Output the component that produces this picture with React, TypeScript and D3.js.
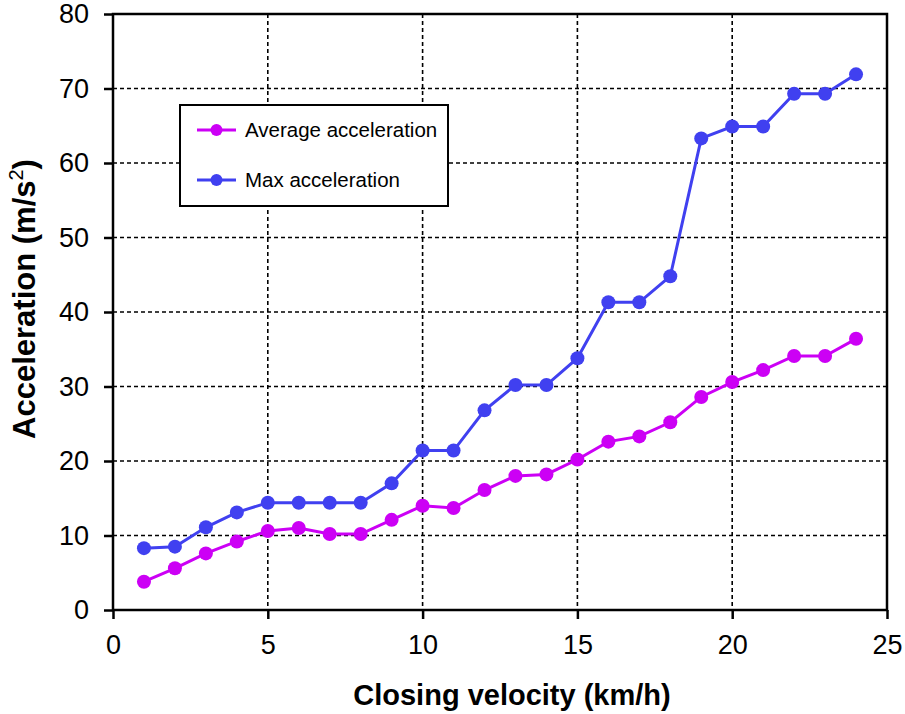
import React, { useEffect, useRef } from "react";
import * as d3 from "d3";

const velocity = [1, 2, 3, 4, 5, 6, 7, 8, 9, 10, 11, 12, 13, 14, 15, 16, 17, 18, 19, 20, 21, 22, 23, 24];
const avgAccel = [3.8, 5.6, 7.6, 9.2, 10.6, 11.0, 10.2, 10.2, 12.1, 14.0, 13.7, 16.1, 18.0, 18.2, 20.2, 22.6, 23.3, 25.2, 28.6, 30.6, 32.2, 34.1, 34.1, 36.4];
const maxAccel = [8.3, 8.5, 11.1, 13.1, 14.4, 14.4, 14.4, 14.4, 17.0, 21.4, 21.4, 26.8, 30.2, 30.2, 33.8, 41.3, 41.3, 44.8, 63.3, 64.9, 64.9, 69.3, 69.3, 71.9];
const xTicks = [0, 5, 10, 15, 20, 25];
const yTicks = [0, 10, 20, 30, 40, 50, 60, 70, 80];
const seriesNames = ["Average acceleration", "Max acceleration"];

const AVG_COLOR = "#cc00f5";
const MAX_COLOR = "#4040f0";

export default function App() {
  const ref = useRef<SVGSVGElement>(null);

  useEffect(() => {
    const width = 905;
    const height = 714;
    const margin = { top: 14, right: 18, bottom: 104, left: 113 };
    const svg = d3.select(ref.current).attr("width", width).attr("height", height);
    svg.selectAll("*").remove();

    const font = "'Liberation Sans', Arial, sans-serif";

    const x = d3.scaleLinear().domain([0, 25]).range([margin.left, width - margin.right]);
    const y = d3.scaleLinear().domain([0, 80]).range([height - margin.bottom, margin.top]);

    const x0 = x(0), x1 = x(25), y0 = y(0), y1 = y(80);

    // grid
    const grid = svg.append("g").attr("stroke", "#000").attr("stroke-width", 1.6).attr("stroke-dasharray", "4,3");
    grid
      .selectAll(".gx")
      .data(xTicks.filter((t) => t > 0 && t < 25))
      .join("line")
      .attr("x1", (d) => x(d))
      .attr("x2", (d) => x(d))
      .attr("y1", y1)
      .attr("y2", y0);
    grid
      .selectAll(".gy")
      .data(yTicks.filter((t) => t > 0 && t < 80))
      .join("line")
      .attr("x1", x0)
      .attr("x2", x1)
      .attr("y1", (d) => y(d))
      .attr("y2", (d) => y(d));

    // frame
    svg
      .append("rect")
      .attr("x", x0)
      .attr("y", y1)
      .attr("width", x1 - x0)
      .attr("height", y0 - y1)
      .attr("fill", "none")
      .attr("stroke", "#000")
      .attr("stroke-width", 2.5);

    // axes
    svg
      .append("g")
      .attr("transform", `translate(0,${y0})`)
      .call(d3.axisBottom(x).tickValues(xTicks).tickSize(9).tickPadding(16).tickFormat(d3.format("d")))
      .call((g) => g.select(".domain").remove())
      .call((g) => g.selectAll("line").attr("stroke-width", 2.5))
      .call((g) => g.selectAll("text").attr("font-family", font).attr("font-size", 27).attr("fill", "#000"));

    svg
      .append("g")
      .attr("transform", `translate(${x0},0)`)
      .call(d3.axisLeft(y).tickValues(yTicks).tickSize(9).tickPadding(15).tickFormat(d3.format("d")))
      .call((g) => g.select(".domain").remove())
      .call((g) => g.selectAll("line").attr("stroke-width", 2.5))
      .call((g) => g.selectAll("text").attr("font-family", font).attr("font-size", 27).attr("fill", "#000"));

    // series
    const series = [
      { name: seriesNames[0], values: avgAccel, color: AVG_COLOR },
      { name: seriesNames[1], values: maxAccel, color: MAX_COLOR },
    ];
    const line = d3
      .line<number>()
      .x((_, i) => x(velocity[i]))
      .y((d) => y(d));

    series.forEach((s) => {
      svg
        .append("path")
        .datum(s.values)
        .attr("fill", "none")
        .attr("stroke", s.color)
        .attr("stroke-width", 3)
        .attr("d", line);
      svg
        .append("g")
        .selectAll("circle")
        .data(s.values)
        .join("circle")
        .attr("cx", (_, i) => x(velocity[i]))
        .attr("cy", (d) => y(d))
        .attr("r", 7)
        .attr("fill", s.color);
    });

    // legend
    const lg = svg.append("g").attr("transform", "translate(180,105)");
    lg.append("rect")
      .attr("width", 268)
      .attr("height", 101)
      .attr("fill", "#fff")
      .attr("stroke", "#000")
      .attr("stroke-width", 2);
    series.forEach((s, i) => {
      const ly = 25 + i * 50;
      lg.append("line")
        .attr("x1", 17)
        .attr("x2", 56)
        .attr("y1", ly)
        .attr("y2", ly)
        .attr("stroke", s.color)
        .attr("stroke-width", 3);
      lg.append("circle").attr("cx", 36.5).attr("cy", ly).attr("r", 6).attr("fill", s.color);
      lg.append("text")
        .attr("x", 65)
        .attr("y", ly)
        .attr("dy", "0.35em")
        .attr("font-family", font)
        .attr("font-size", 20.5)
        .attr("fill", "#000")
        .text(s.name);
    });

    // axis titles
    svg
      .append("text")
      .attr("x", 512)
      .attr("y", 705)
      .attr("text-anchor", "middle")
      .attr("font-family", font)
      .attr("font-size", 29)
      .attr("font-weight", "700")
      .attr("fill", "#000")
      .text("Closing velocity (km/h)");

    const yt = svg
      .append("text")
      .attr("transform", `translate(35, 299) rotate(-90)`)
      .attr("text-anchor", "middle")
      .attr("font-family", font)
      .attr("font-size", 31)
      .attr("font-weight", "700")
      .attr("fill", "#000");
    yt.append("tspan").text("Acceleration (m/s");
    yt.append("tspan").attr("font-size", 20).attr("font-weight", "400").attr("dy", -12).text("2");
    yt.append("tspan").attr("dy", 12).text(")");
  }, []);

  return (
    <>
      <style>{`body{margin:0}`}</style>
      <svg ref={ref} style={{ display: "block" }} />
    </>
  );
}
